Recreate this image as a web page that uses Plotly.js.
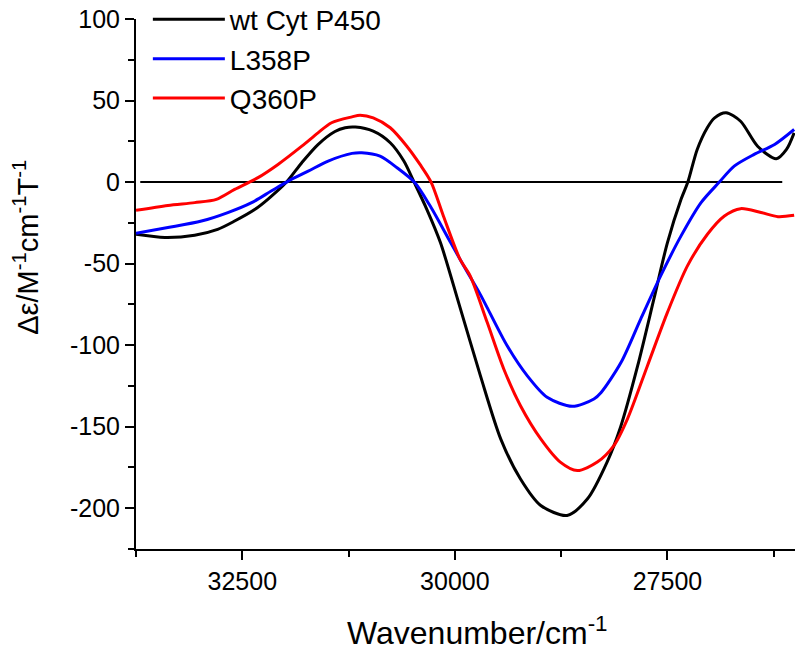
<!DOCTYPE html>
<html>
<head>
<meta charset="utf-8">
<script src="https://cdn.plot.ly/plotly-3.0.1.min.js"></script>
<style>html,body{margin:0;padding:0;background:#fff;}#chart{width:800px;height:651px;}</style>
</head>
<body>
<div id="chart"></div>
<script>
// Wavenumber (cm^-1) and Δε values
const wtX = [33750, 33410, 33060, 32790, 32590, 32350, 32200, 31980, 31800, 31610, 31410, 31290, 31170, 30960, 30760, 30600, 30480, 30330, 30170, 29950, 29700, 29460, 29230, 28990, 28680, 28440, 28210, 28050, 27850, 27660, 27500, 27340, 27260, 27150, 27030, 26945, 26810, 26640, 26440, 26220, 26100, 26010];
const wtY = [-32, -34, -32.6, -29, -23.9, -16.7, -10.6, 0, 11.9, 23, 31, 33.3, 33.7, 31.2, 24.1, 12.9, 0, -16.7, -37.1, -75, -118.7, -157.6, -181.9, -198.3, -204.4, -194.2, -171.7, -150, -112.6, -71.8, -37.1, -10.6, 0, 20, 33.5, 39.4, 42.5, 37.3, 22, 14.3, 20, 30.2];

const l358X = [33750, 33375, 32980, 32670, 32390, 32160, 31960, 31725, 31490, 31210, 31095, 30880, 30680, 30470, 30290, 30050, 29900, 29700, 29620, 29385, 29150, 28915, 28620, 28365, 28280, 28045, 27815, 27580, 27340, 27105, 26890, 26715, 26480, 26240, 26010];
const l358Y = [-31.4, -27.9, -23.9, -18.7, -12.6, -5.5, 0.6, 6.7, 12.9, 17.6, 18, 15.9, 8.8, -0.4, -14.7, -37.1, -51, -69, -77, -100.4, -118.7, -132, -137.5, -133, -129, -110.5, -84, -57.5, -33, -12.6, 0, 9.8, 17, 23.1, 32.3];

const q360X = [33750, 33375, 33060, 32805, 32590, 32315, 32080, 31800, 31610, 31450, 31210, 31115, 30960, 30760, 30565, 30410, 30280, 30135, 29940, 29820, 29620, 29425, 29230, 28990, 28760, 28560, 28325, 28130, 27970, 27735, 27500, 27265, 27030, 26830, 26640, 26400, 26200, 26010];
const q360Y = [-17.3, -14.3, -12.6, -10.6, -4.5, 2.7, 10.8, 22, 30.2, 36.4, 40, 41, 39.4, 33.3, 22, 10.8, 0, -20.8, -47.3, -57.5, -86, -114.6, -137, -157.5, -171.7, -176.9, -171.7, -161.6, -145.2, -112.6, -79.9, -51.4, -32, -20.8, -16.3, -18.7, -21.2, -20.4];

const zeroX = [33700, 26150];
const zeroY = [0, 0];

const seriesNames = ["wt Cyt P450", "L358P", "Q360P"];
const xTicks = [32500, 30000, 27500];
const yTicks = [100, 50, 0, -50, -100, -150, -200];
const xTitle = "Wavenumber/cm<sup>-1</sup>";
const yTitle = "Δε/M<sup>-1</sup>cm<sup>-1</sup>T<sup>-1</sup>";

const FONT = "Liberation Sans, Arial, sans-serif";

const traces = [
  {x: zeroX, y: zeroY, mode: "lines", line: {color: "#000", width: 2}, showlegend: false, hoverinfo: "skip"},
  {x: wtX, y: wtY, name: seriesNames[0], mode: "lines", line: {color: "#000", width: 3, shape: "spline", smoothing: 0.8}},
  {x: l358X, y: l358Y, name: seriesNames[1], mode: "lines", line: {color: "#0000ff", width: 3, shape: "spline", smoothing: 0.8}},
  {x: q360X, y: q360Y, name: seriesNames[2], mode: "lines", line: {color: "#ff0000", width: 3, shape: "spline", smoothing: 0.8}}
];

const layout = {
  width: 800, height: 651,
  margin: {l: 136, r: 5, t: 19, b: 102, autoexpand: false},
  paper_bgcolor: "#fff", plot_bgcolor: "#fff",
  font: {family: FONT, color: "#000", size: 25},
  showlegend: true,
  legend: {x: 0.018, y: 1.046, xanchor: "left", yanchor: "top", bgcolor: "rgba(0,0,0,0)",
           font: {family: FONT, size: 28, color: "#000"}, tracegroupgap: 0, itemwidth: 72},
  xaxis: {
    range: [33750, 26000],
    tickmode: "array", tickvals: xTicks, ticktext: xTicks.map(String),
    ticks: "outside", ticklen: 9, tickwidth: 2, tickcolor: "#000",
    minor: {ticks: "outside", ticklen: 6, tickwidth: 2, tickcolor: "#000", dtick: 1250, tick0: 0},
    showline: true, linecolor: "#000", linewidth: 2,
    showgrid: false, zeroline: false,
    tickfont: {family: FONT, size: 25}
  },
  yaxis: {
    range: [-225, 100],
    tickmode: "array", tickvals: yTicks, ticktext: yTicks.map(String),
    ticks: "outside", ticklen: 9, tickwidth: 2, tickcolor: "#000",
    minor: {ticks: "outside", ticklen: 6, tickwidth: 2, tickcolor: "#000", dtick: 25, tick0: 0},
    showline: true, linecolor: "#000", linewidth: 2,
    showgrid: false, zeroline: false,
    tickfont: {family: FONT, size: 25}
  },
  annotations: [
    {text: xTitle, xref: "paper", yref: "paper", x: 0.5175, y: -0.154, xanchor: "center", yanchor: "middle",
     showarrow: false, font: {family: FONT, size: 32, color: "#000"}},
    {text: yTitle, xref: "paper", yref: "paper", x: -0.167, y: 0.57, xanchor: "center", yanchor: "middle",
     textangle: -90, showarrow: false, font: {family: FONT, size: 29, color: "#000"}}
  ]
};

Plotly.newPlot("chart", traces, layout, {displayModeBar: false, staticPlot: true});
</script>
</body>
</html>
